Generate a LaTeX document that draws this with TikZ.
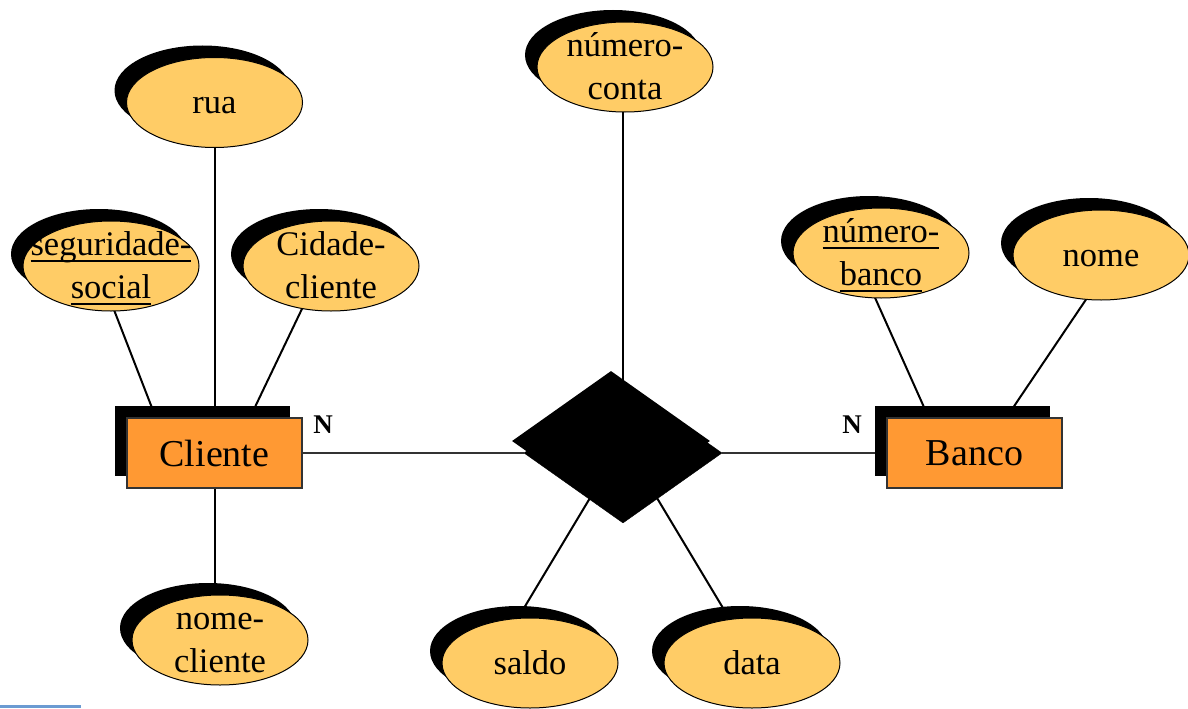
\documentclass[tikz,border=0pt]{standalone}
\usepackage{fontspec}
\setmainfont{Liberation Serif}
\usetikzlibrary{shapes.geometric,shadows,backgrounds}

\definecolor{attrfill}{HTML}{FFCC66}
\definecolor{entfill}{HTML}{FF9933}
\definecolor{entline}{HTML}{333333}
\definecolor{tabblue}{HTML}{6B9BD2}

% underline at a fixed distance below the baseline (crosses descenders)
\newcommand\ulword[1]{\setbox0\hbox{#1}\rlap{\rule[-0.18em]{\wd0}{0.06em}}\box0}

\begin{document}
\begin{tikzpicture}[x=1pt,y=-1pt,
  blackshadow/.style={general shadow={fill=black,shadow xshift=-12pt,shadow yshift=12pt}},
  attr/.style={ellipse,draw=black,line width=1pt,fill=attrfill,
    minimum width=176pt,minimum height=90pt,inner sep=0pt,blackshadow},
  attrtext/.style={align=center,inner sep=0pt,font=\fontsize{34.5}{43}\selectfont},
  ent/.style={rectangle,draw=entline,line width=1.3pt,fill=entfill,
    minimum width=175pt,minimum height=70pt,inner sep=0pt,
    font=\fontsize{38}{44}\selectfont,blackshadow},
  rel/.style={diamond,draw=black,fill=black,minimum width=198pt,
    minimum height=140pt,inner sep=0pt,blackshadow},
  card/.style={font=\bfseries\fontsize{27}{31}\selectfont,inner sep=0pt},
  link/.style={draw=black,line width=2pt},
  hlink/.style={draw=black!80,line width=1.3pt}]

\useasboundingbox (0,0) rectangle (1188,709);

% entities and relationship
\node[ent] (cli) at (214.5,453) {Cliente};
\node[ent] (banco) at (974.5,453) {Banco};
\node[rel] (dia) at (623,453) {};

% attributes
\node[attr] (rua) at (214.5,102.5) {};
\node[attr] (seg) at (111,266) {};
\node[attr] (cid) at (331,266) {};
\node[attr] (nomecli) at (220,640) {};
\node[attr] (conta) at (625,67) {};
\node[attr] (nb) at (881,253) {};
\node[attr] (nome) at (1101,255) {};
\node[attr] (saldo) at (530,663) {};
\node[attr] (data) at (752,663) {};

% attribute texts (baseline block centred slightly below the ellipse centre)
\node[attrtext] (rua-t) at ([yshift=-11pt]rua.center) {\smash{rua}};
\node[attrtext] (seg-t) at ([yshift=-11pt]seg.center)
  {\smash{\ulword{seguridade-}}\\\smash{\ulword{social}}};
\node[attrtext] (cid-t) at ([yshift=-11pt]cid.center)
  {\smash{Cidade-}\\\smash{cliente}};
\node[attrtext] (nomecli-t) at ([yshift=-11pt]nomecli.center)
  {\smash{nome-}\\\smash{cliente}};
\node[attrtext] (conta-t) at ([yshift=-11pt]conta.center)
  {\smash{número-}\\\smash{conta}};
\node[attrtext] (nb-t) at ([yshift=-11pt]nb.center)
  {\smash{\ulword{número-}}\\\smash{\ulword{banco}}};
\node[attrtext] (nome-t) at ([yshift=-11pt]nome.center) {\smash{nome}};
\node[attrtext] (saldo-t) at ([yshift=-11pt]saldo.center) {\smash{saldo}};
\node[attrtext] (data-t) at ([yshift=-11pt]data.center) {\smash{data}};

% cardinalities
\node[card] (n-cli) at (323,425) {N};
\node[card] (n-banco) at (852,425) {N};

% connectors, behind every shape
\begin{pgfonlayer}{background}
  \draw[link] (rua) -- (cli);
  \draw[link] ([xshift=-14pt]seg.center) -- ([xshift=-45pt]cli.center);
  \draw[link] ([xshift=-8.5pt]cid.center) -- ([xshift=18.5pt]cli.center);
  \draw[link] (cli) -- (cli |- nomecli);
  \draw[hlink] (cli) -- (dia);
  \draw[hlink] (dia) -- (banco);
  \draw[link] (dia) -- (dia |- conta);
  \draw[link] ([xshift=-6pt]dia.center) -- ([xshift=-39pt]saldo.center);
  \draw[link] ([xshift=7pt]dia.center) -- ([xshift=4pt]data.center);
  \draw[link] ([xshift=-26pt]nb.center) -- ([xshift=-30pt]banco.center);
  \draw[link] ([xshift=15pt]nome.center) -- ([xshift=8pt]banco.center);
\end{pgfonlayer}

% thin blue strip at the lower left corner
\fill[tabblue] (0,705) rectangle (81,708.3);
\end{tikzpicture}
\end{document}
